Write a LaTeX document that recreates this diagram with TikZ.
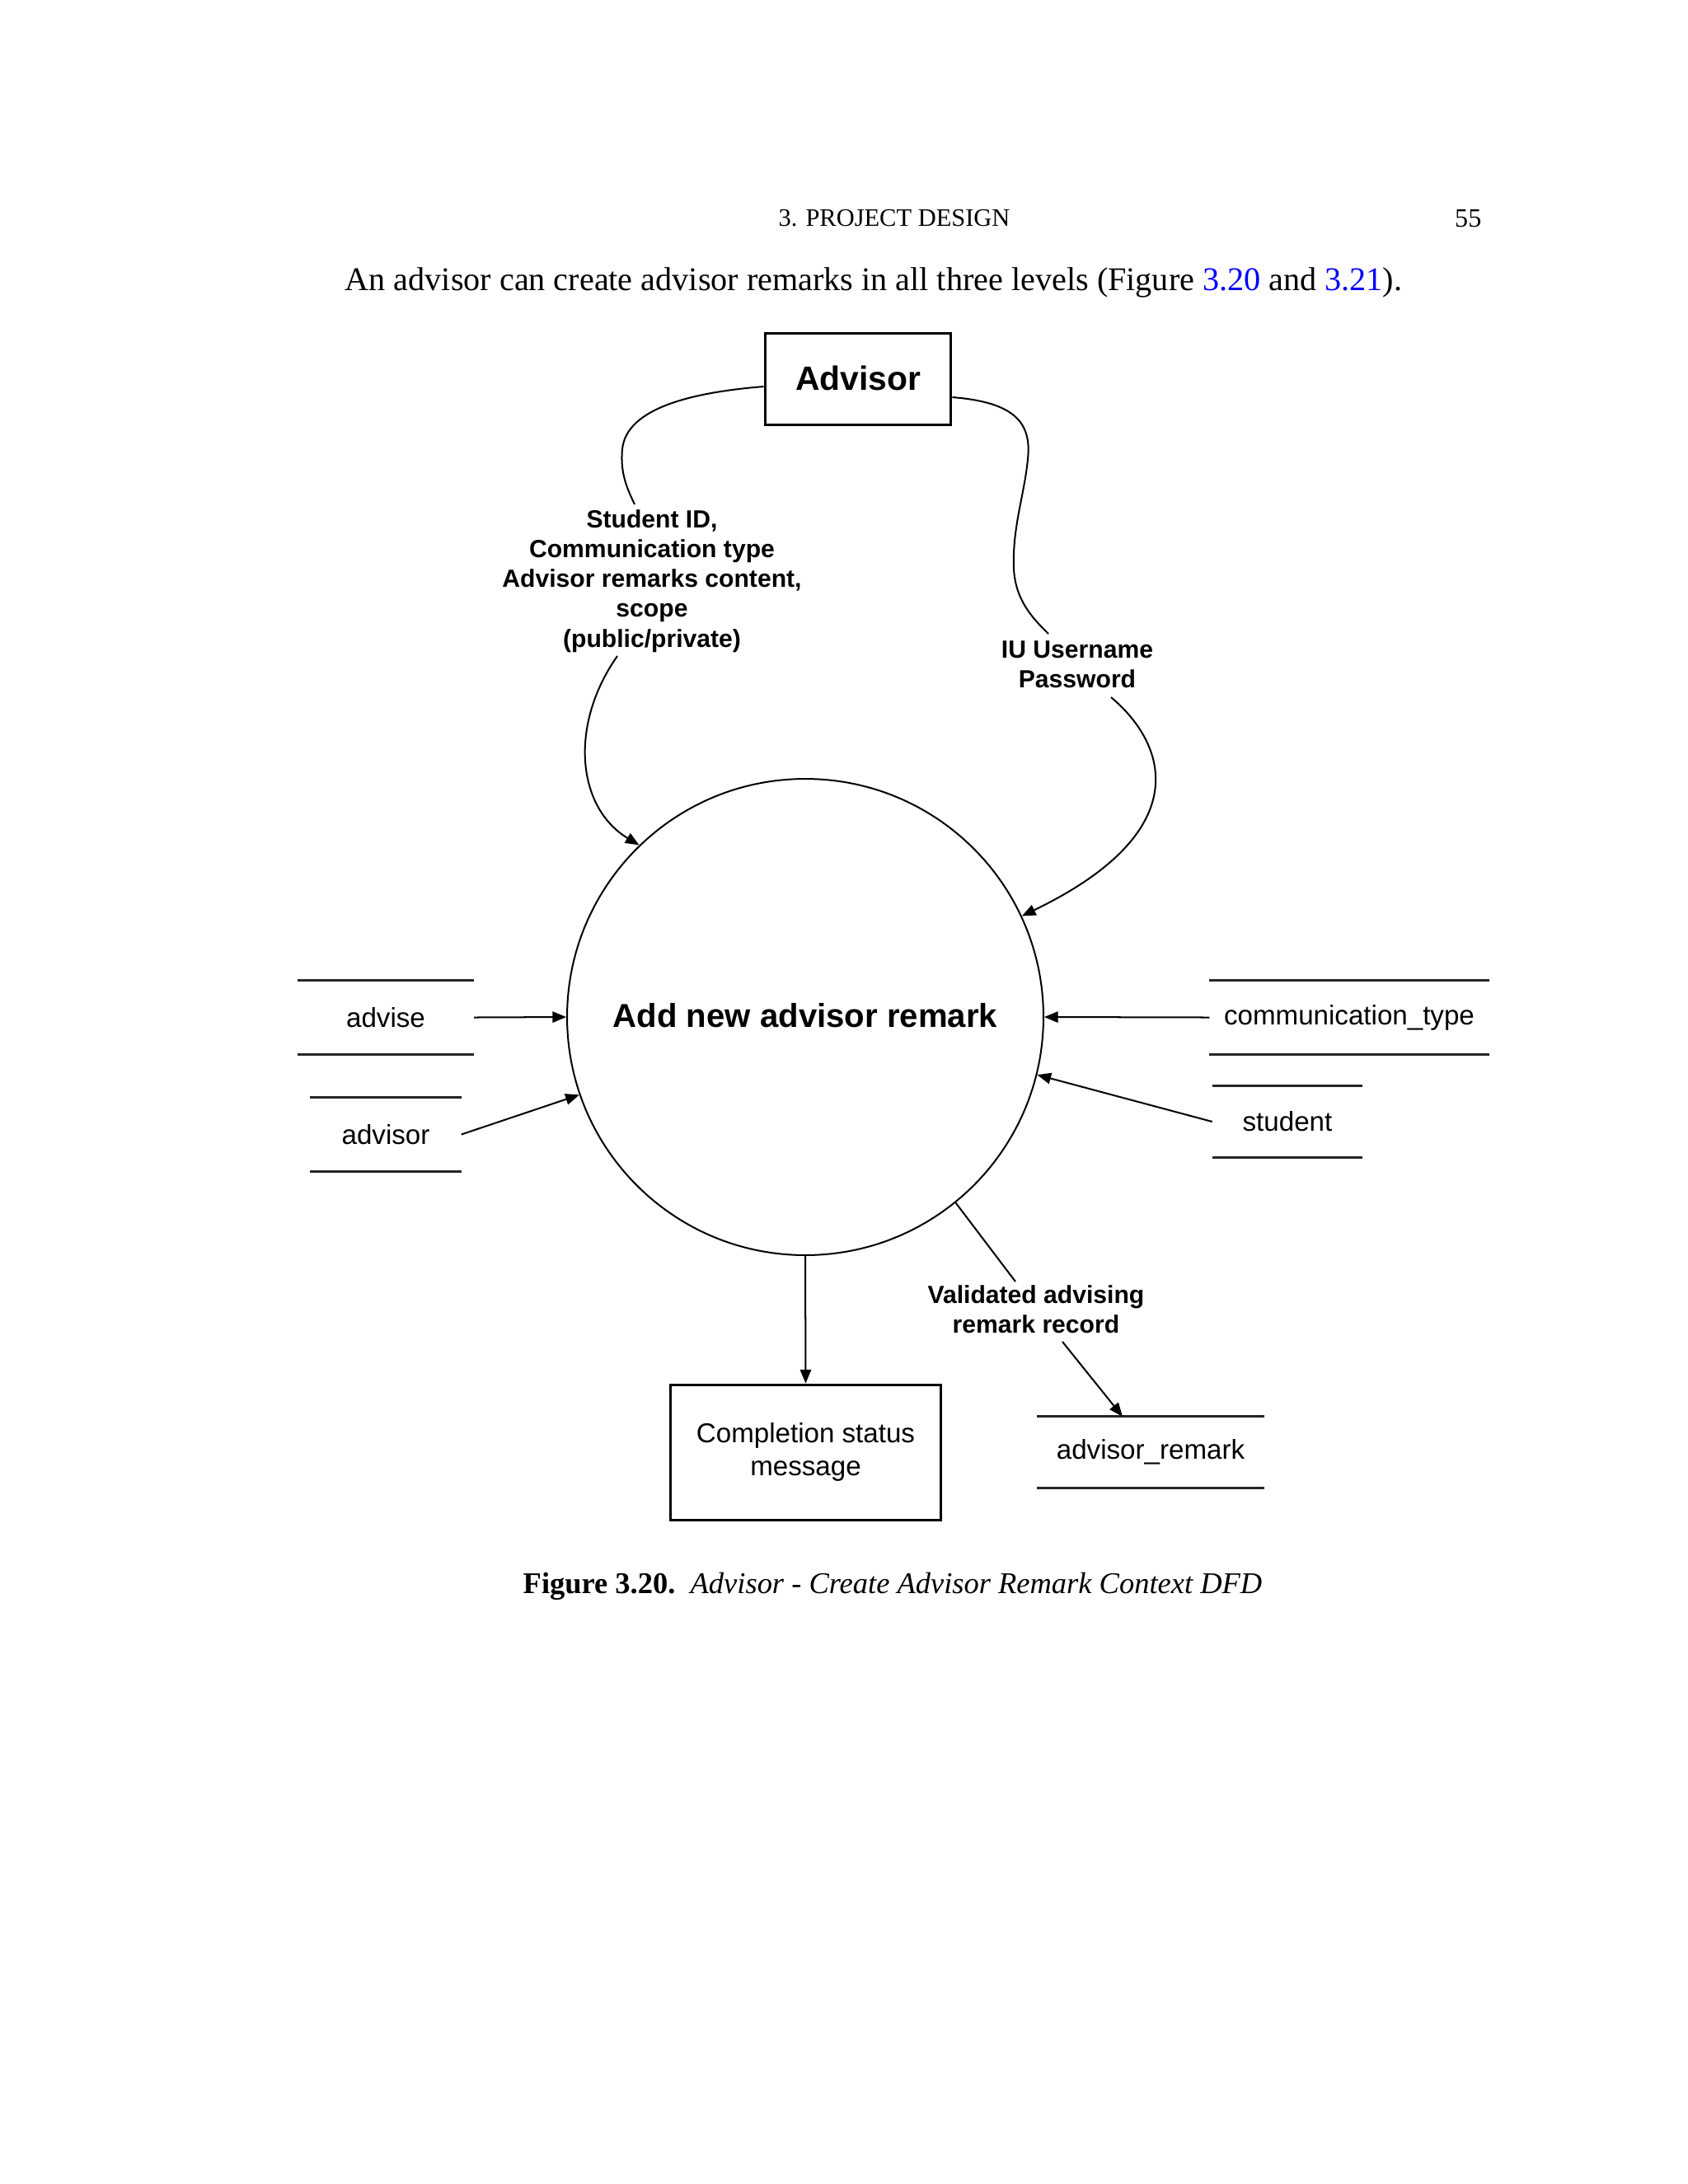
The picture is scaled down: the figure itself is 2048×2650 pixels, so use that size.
\documentclass[tikz,border=0pt]{standalone}
\usepackage{fontspec}
\setmainfont{Liberation Serif}
\newfontfamily\dfont{Liberation Sans}
\usetikzlibrary{arrows.meta,calc}
\begin{document}
\begin{tikzpicture}[x=0.29883pt,y=-0.29883pt,
  flow/.style={draw, line width=0.6pt, -{Triangle[length=5pt,width=4pt]}},
  link/.style={draw, line width=0.6pt},
  ent/.style={draw, line width=0.9pt, rectangle, inner sep=0pt},
  proc/.style={draw, line width=0.6pt, circle, inner sep=0pt},
  lbl/.style={font=\dfont\bfseries\fontsize{9}{10.8}\selectfont, align=center, inner sep=1pt},
  sttxt/.style={font=\dfont\fontsize{9.9}{12}\selectfont, align=center, inner sep=0pt, rectangle},
  stline/.style={line width=0.9pt, draw=black!85},
  pagetxt/.style={inner sep=0pt, anchor=center}
]
\fill[white] (0,0) rectangle (2048,2650);
\useasboundingbox (0,0) rectangle (2048,2650);

% page text
\node[pagetxt, font=\fontsize{9.1}{11}\selectfont] (hdr) at (1085,265) {3. PROJECT DESIGN};
\node[pagetxt, font=\fontsize{9.6}{11}\selectfont, anchor=east] (pnum) at (1798,265) {55};
\node[pagetxt, font=\fontsize{12}{14}\selectfont] (intro) at (1060,343) {An advisor can create advisor remarks in all three levels (Figure \textcolor{blue}{3.20} and \textcolor{blue}{3.21}).};
\node[pagetxt, font=\fontsize{10.9}{13}\selectfont] (cap) at (1083,1925) {\textbf{Figure 3.20.}\ \ \textit{Advisor - Create Advisor Remark Context DFD}};

% entities and process
\node[ent, minimum width=67.5pt, minimum height=33.2pt, font=\dfont\bfseries\fontsize{12.2}{14}\selectfont] (adv) at (1041,460) {\raisebox{1pt}{Advisor}};
\node[proc, minimum size=172.7pt, font=\dfont\bfseries\fontsize{12}{14}\selectfont] (p) at (977,1234) {\raisebox{1pt}{Add new advisor remark}};
\node[ent, minimum width=98.3pt, minimum height=49pt, font=\dfont\fontsize{9.9}{12}\selectfont, align=center] (comp) at (977.5,1762) {Completion status\\message};

% data stores
\node[sttxt, minimum width=63.6pt, minimum height=26.6pt] (sadvise) at (468,1234.5) {advise};
\node[sttxt, minimum width=54.4pt, minimum height=26.6pt] (sadvisor) at (468,1376.5) {advisor};
\node[sttxt, minimum width=101pt, minimum height=26.6pt] (sct) at (1637,1234.5) {communication\_type};
\node[sttxt, minimum width=54.1pt, minimum height=25.7pt] (sstu) at (1562,1361) {student};
\node[sttxt, minimum width=81.9pt, minimum height=25.4pt] (sar) at (1396,1762) {advisor\_remark};
\foreach \s in {sadvise,sadvisor,sct,sstu,sar}{
  \draw[stline] (\s.north west) -- (\s.north east);
  \draw[stline] (\s.south west) -- (\s.south east);
}

% labels
\node[lbl] (lsid) at (791,705) {Student ID,\\Communication type\\Advisor remarks content,\\scope\\(public/private)};
\node[lbl] (liu) at (1307,806) {IU Username\\Password};
\node[lbl] (lval) at (1257,1589) {Validated advising\\remark record};

% flows
\draw[link] ($(adv.west)+(0,9)$) .. controls (840,476) and (760,495) .. (755,545)
   .. controls (752,575) and (762,595) .. ($(lsid.center)+(-21,-93)$);
\draw[flow] ($(lsid.center)+(-42,91)$) .. controls (690,880) and (700,980) .. (p.134.7);

\draw[link] ($(adv.east)+(0,22)$) .. controls (1230,488) and (1252,512) .. (1247,557)
   .. controls (1243,600) and (1228,640) .. (1230,690)
   .. controls (1232,730) and (1255,752) .. ($(liu.center)+(-35,-37)$);
\draw[flow] ($(liu.center)+(41,40)$) .. controls (1418,905) and (1450,1010) .. (p.25.6);

\draw[flow] (sadvise.east) -- (p.west);
\draw[flow] (sadvisor.east) -- (p.199.1);
\draw[flow] (sct.west) -- (p.east);
\draw[flow] (sstu.west) -- (p.-14.6);
\draw[flow] (p.south) -- (comp.north);

\draw[link] (p.-51.3) -- ($(lval.center)+(-25,-34)$);
\draw[flow] ($(lval.center)+(32,39)$) -- ($(sar.north)+(-34,0)$);
\end{tikzpicture}
\end{document}
